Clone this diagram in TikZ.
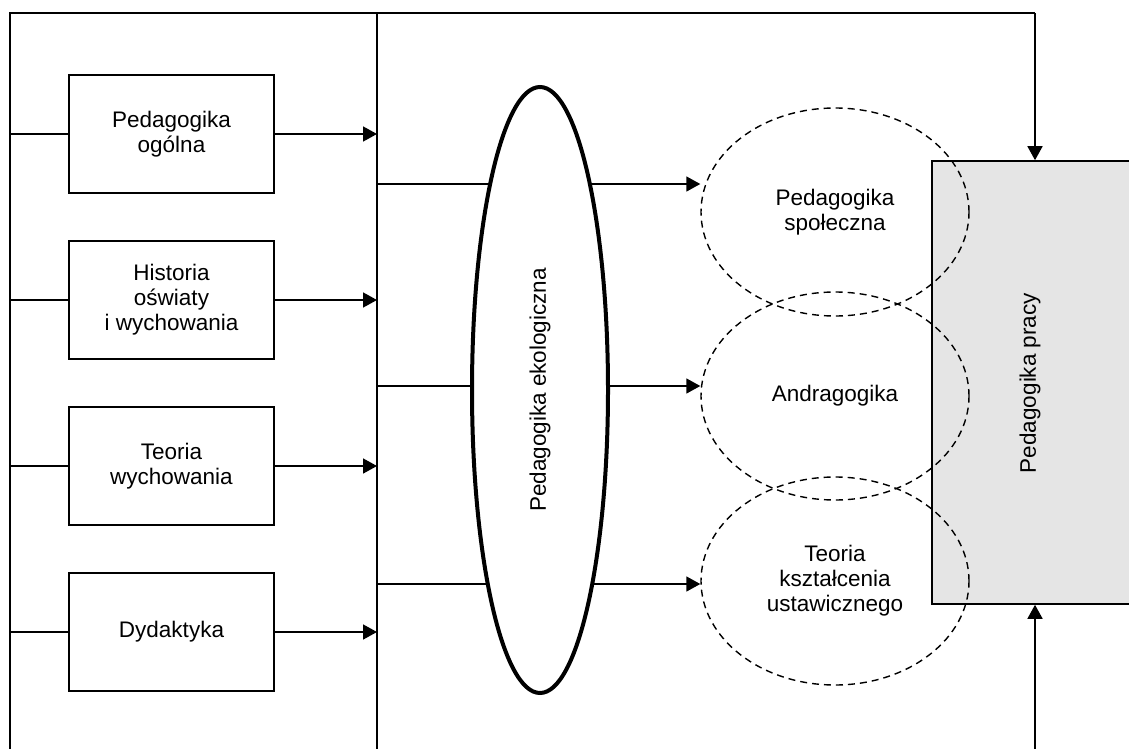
\documentclass[tikz,border=0pt]{standalone}
\usepackage{fontspec}
\setmainfont{Liberation Sans}
\usetikzlibrary{shapes.geometric,arrows.meta}
\definecolor{boxgrey}{HTML}{E5E5E5}
\begin{document}
\begin{tikzpicture}[x=1pt,y=-1pt,
  font=\fontsize{22.5}{25}\selectfont,
  thinline/.style={line width=1.6pt},
  arr/.style={line width=1.6pt,-{Triangle[length=14pt,width=15pt]}},
  srcbox/.style={draw,line width=1.6pt,minimum width=205pt,minimum height=118pt,align=center,inner sep=0pt},
  dashell/.style={draw,ellipse,dash pattern=on 7pt off 5pt,line width=1.4pt,minimum width=268pt,minimum height=208pt,align=center,inner sep=0pt},
  ecoell/.style={draw,ellipse,line width=4pt,fill=white,minimum width=606pt,minimum height=136pt,inner sep=0pt,rotate=90},
  workbox/.style={draw,line width=1.6pt,fill=boxgrey,minimum width=206pt,minimum height=443pt,inner sep=0pt}
]
\useasboundingbox (0,0) rectangle (1129,749);

% frame coordinates
\coordinate (tl) at (10,13);
\coordinate (bl) at (10,749);
\coordinate (tm) at (377,13);
\coordinate (bm) at (377,749);
\coordinate (tr) at (1035,13);
\coordinate (br) at (1035,749);

% left boxes
\node[srcbox] (b1) at (171.5,134) {Pedagogika\\ogólna};
\node[srcbox] (b2) at (171.5,300) {Historia\\oświaty\\i wychowania};
\node[srcbox] (b3) at (171.5,466) {Teoria\\wychowania};
\node[srcbox] (b4) at (171.5,632) {Dydaktyka};

% work box
\node[workbox] (work) at (1035,382.5) {};
\node[rotate=90] (worklabel) at (1030,383) {Pedagogika pracy};

% dashed ellipses
\node[dashell] (soc) at (835,212) {Pedagogika\\społeczna};
\node[dashell] (andr) at (835,396) {Andragogika};
\node[dashell] (tks) at (835,581) {Teoria\\kształcenia\\ustawicznego};

% frame lines
\draw[thinline] (bl) -- (tl) -- (tr);
\draw[arr] (tr) -- (work.north -| tr);
\draw[arr] (br) -- (work.south -| br);
\draw[thinline] (tm) -- (bm);

% box connectors
\foreach \b in {b1,b2,b3,b4}{
  \draw[thinline] (\b.west -| tl) -- (\b.west);
  \draw[arr] (\b.east) -- (\b.east -| tm);
}

% middle connectors
\coordinate (m1) at (377,184);
\coordinate (m2) at (377,386);
\coordinate (m3) at (377,584);
\draw[arr] (m1) -- (m1 -| soc.west);
\draw[arr] (m2) -- (m2 -| andr.west);
\draw[arr] (m3) -- (m3 -| tks.west);

% ecological ellipse on top
\node[ecoell] (eco) at (540,390) {Pedagogika ekologiczna};
\end{tikzpicture}
\end{document}
